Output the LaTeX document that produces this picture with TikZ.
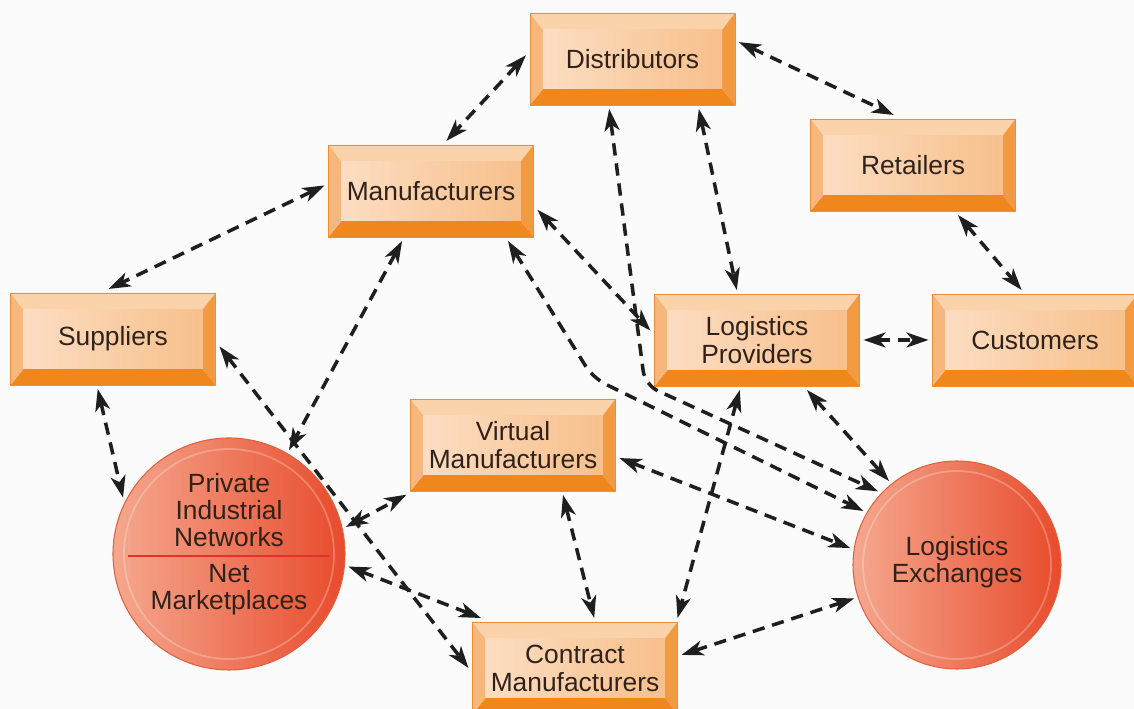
\documentclass[tikz,border=0pt]{standalone}
\usepackage{fontspec}
\setmainfont{Liberation Sans}
\usetikzlibrary{arrows.meta}
\definecolor{facelight}{HTML}{FCDDC2}
\definecolor{facedark}{HTML}{F7C08C}
\definecolor{bvtop}{HTML}{FAD3AB}
\definecolor{bvleft}{HTML}{F7B77C}
\definecolor{bvright}{HTML}{F29A42}
\definecolor{bvbot}{HTML}{EF871C}
\definecolor{bvedge}{HTML}{EC8E35}
\definecolor{balllight}{HTML}{F5A88F}
\definecolor{balldark}{HTML}{E84B2C}
\definecolor{ballrim}{HTML}{E0613F}
\definecolor{txtbrown}{HTML}{30221A}
\definecolor{divred}{HTML}{E2322A}
\tikzset{
	bevelbox/.style={rectangle, minimum width=4.1cm, minimum height=1.84cm, inner sep=0pt, outer sep=0.08cm,
		draw=bvedge, line width=0.4pt, align=center, text=txtbrown, font=\fontsize{15}{16}\selectfont,
		path picture={
			\path (path picture bounding box.north west) coordinate (p1)
			(path picture bounding box.north east) coordinate (p2)
			(path picture bounding box.south east) coordinate (p3)
			(path picture bounding box.south west) coordinate (p4)
			([shift={(0.26cm,-0.34cm)}]p1) coordinate (q1)
			([shift={(-0.26cm,-0.34cm)}]p2) coordinate (q2)
			([shift={(-0.26cm,0.32cm)}]p3) coordinate (q3)
			([shift={(0.26cm,0.32cm)}]p4) coordinate (q4);
			\fill[bvtop] (p1)--(p2)--(q2)--(q1)--cycle;
			\fill[bvright] (p2)--(p3)--(q3)--(q2)--cycle;
			\fill[bvbot] (p3)--(p4)--(q4)--(q3)--cycle;
			\fill[bvleft] (p4)--(p1)--(q1)--(q4)--cycle;
			\shade[left color=facelight, right color=facedark] (q1) rectangle (q3);
	}},
	ball/.style={circle, draw=ballrim, line width=0.6pt, left color=balllight, right color=balldark,
		inner sep=0pt, outer sep=0.08cm},
	balltext/.style={align=center, text=txtbrown, font=\fontsize{15}{15.4}\selectfont, inner sep=0pt},
	ring/.style={white, opacity=0.25, line width=1pt},
	link/.style={<->, line width=2pt, dash pattern=on 7pt off 4.5pt, draw=black!88}
}
\begin{document}
\begin{tikzpicture}[scale=1, line join=round, >={Stealth[length=12.5pt,width=8.5pt,inset=3.5pt]}]
	\fill[gray!3] (0,0) rectangle (22.68,14.18);
	\clip (0,0) rectangle (22.68,14.18);
	\path 
	(12.65,13.00) coordinate (D)
	(18.26,10.88) coordinate (R)
	(8.62,10.36) coordinate (M)
	(2.26,7.40) coordinate (S)
	(15.14,7.38) coordinate (L)
	(20.70,7.38) coordinate (C)
	(10.26,5.28) coordinate (V)
	(11.50,0.82) coordinate (K)
	(4.58,3.10) coordinate (P)
	(19.14,2.88) coordinate (X)
	(12.90,6.48) coordinate (bendD)
	(11.86,6.62) coordinate (bendM)
	;
	% boxes
	\node[bevelbox] (dist) at (D) {Distributors};
	\node[bevelbox] (ret) at (R) {Retailers};
	\node[bevelbox] (manu) at (M) {Manufacturers};
	\node[bevelbox] (sup) at (S) {Suppliers};
	\node[bevelbox] (lp) at (L) {Logistics\\Providers};
	\node[bevelbox] (cust) at (C) {Customers};
	\node[bevelbox] (virt) at (V) {Virtual\\Manufacturers};
	\node[bevelbox] (contr) at (K) {Contract\\Manufacturers};
	% circles
	\node[ball, minimum size=4.64cm] (pin) at (P) {};
	\node[ball, minimum size=4.16cm] (lex) at (X) {};
	\draw[ring] (pin.center) circle (2.1cm);
	\draw[ring] (lex.center) circle (1.88cm);
	\draw[divred, line width=1pt] ([shift={(-2.02cm,-0.04cm)}]pin.center) -- ([shift={(2.02cm,-0.04cm)}]pin.center);
	\node[balltext] (pintext) at ([yshift=0.19cm]pin.center) {Private\\Industrial\\Networks\\[5pt]Net\\Marketplaces};
	\node[balltext] (lextext) at ([yshift=0.06cm]lex.center) {Logistics\\Exchanges};
	% connectors
	\foreach \a/\b in {dist.9/ret.111, dist.178/manu.73, manu.177/sup.95, ret.-48/cust.105,
		lp.0/cust.180, dist.-37/lp.112, manu.-10/lp.175, sup.-107/pin.152, manu.-120/pin.60,
		sup.-4/contr.180, pin.13/virt.-155, pin.-6/contr.152, virt.-45/contr.69, lp.-109/contr.26,
		lp.-45/lex.129, virt.-7/lex.171, contr.7/lex.-162}
	\draw[link] (\a) -- (\b);
	\draw[link, rounded corners=8pt] (dist.-115) -- (bendD) -- (lex.137);
	\draw[link, rounded corners=8pt] (manu.-33) -- (bendM) -- (lex.150);
\end{tikzpicture}
\end{document}
